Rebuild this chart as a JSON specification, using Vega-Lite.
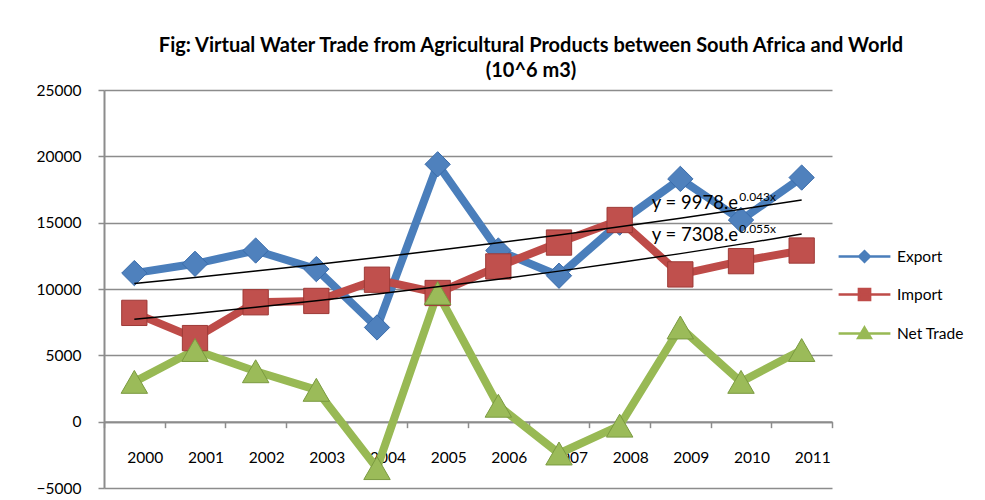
{
  "$schema": "https://vega.github.io/schema/vega-lite/v6.json",
  "width": 728,
  "height": 398,
  "autosize": {"type": "none"},
  "padding": {"left": 104, "top": 90, "right": 153, "bottom": 12},
  "background": "white",
  "config": {
    "view": {"stroke": null},
    "font": "Lato",
    "axis": {"labelFont": "Lato", "labelColor": "#000000", "zindex": 0}
  },
  "title": {
    "text": ["Fig: Virtual Water Trade from Agricultural Products between South Africa and World", "(10^6 m3)"],
    "font": "Lato",
    "fontSize": 20,
    "fontWeight": "bold",
    "color": "#000000",
    "anchor": "middle",
    "dx": 63,
    "lineHeight": 25,
    "offset": 2
  },
  "datasets": {
    "trade": [
      {"year": "2000", "series": "Export", "value": 11200},
      {"year": "2001", "series": "Export", "value": 11900},
      {"year": "2002", "series": "Export", "value": 12900},
      {"year": "2003", "series": "Export", "value": 11500},
      {"year": "2004", "series": "Export", "value": 7100},
      {"year": "2005", "series": "Export", "value": 19400},
      {"year": "2006", "series": "Export", "value": 12900},
      {"year": "2007", "series": "Export", "value": 11000},
      {"year": "2008", "series": "Export", "value": 15000},
      {"year": "2009", "series": "Export", "value": 18300},
      {"year": "2010", "series": "Export", "value": 15200},
      {"year": "2011", "series": "Export", "value": 18400},
      {"year": "2000", "series": "Import", "value": 8200},
      {"year": "2001", "series": "Import", "value": 6300},
      {"year": "2002", "series": "Import", "value": 9000},
      {"year": "2003", "series": "Import", "value": 9100},
      {"year": "2004", "series": "Import", "value": 10700},
      {"year": "2005", "series": "Import", "value": 9700},
      {"year": "2006", "series": "Import", "value": 11700},
      {"year": "2007", "series": "Import", "value": 13500},
      {"year": "2008", "series": "Import", "value": 15200},
      {"year": "2009", "series": "Import", "value": 11100},
      {"year": "2010", "series": "Import", "value": 12100},
      {"year": "2011", "series": "Import", "value": 12900},
      {"year": "2000", "series": "Net Trade", "value": 3000},
      {"year": "2001", "series": "Net Trade", "value": 5400},
      {"year": "2002", "series": "Net Trade", "value": 3800},
      {"year": "2003", "series": "Net Trade", "value": 2400},
      {"year": "2004", "series": "Net Trade", "value": -3500},
      {"year": "2005", "series": "Net Trade", "value": 9700},
      {"year": "2006", "series": "Net Trade", "value": 1200},
      {"year": "2007", "series": "Net Trade", "value": -2400},
      {"year": "2008", "series": "Net Trade", "value": -300},
      {"year": "2009", "series": "Net Trade", "value": 7100},
      {"year": "2010", "series": "Net Trade", "value": 3000},
      {"year": "2011", "series": "Net Trade", "value": 5400}
    ],
    "trend": [
      {"year": "2000", "fit": "Export", "value": 10416},
      {"year": "2001", "fit": "Export", "value": 10874},
      {"year": "2002", "fit": "Export", "value": 11352},
      {"year": "2003", "fit": "Export", "value": 11851},
      {"year": "2004", "fit": "Export", "value": 12371},
      {"year": "2005", "fit": "Export", "value": 12915},
      {"year": "2006", "fit": "Export", "value": 13482},
      {"year": "2007", "fit": "Export", "value": 14075},
      {"year": "2008", "fit": "Export", "value": 14693},
      {"year": "2009", "fit": "Export", "value": 15339},
      {"year": "2010", "fit": "Export", "value": 16013},
      {"year": "2011", "fit": "Export", "value": 16716},
      {"year": "2000", "fit": "Import", "value": 7721},
      {"year": "2001", "fit": "Import", "value": 8158},
      {"year": "2002", "fit": "Import", "value": 8619},
      {"year": "2003", "fit": "Import", "value": 9106},
      {"year": "2004", "fit": "Import", "value": 9621},
      {"year": "2005", "fit": "Import", "value": 10165},
      {"year": "2006", "fit": "Import", "value": 10740},
      {"year": "2007", "fit": "Import", "value": 11347},
      {"year": "2008", "fit": "Import", "value": 11989},
      {"year": "2009", "fit": "Import", "value": 12667},
      {"year": "2010", "fit": "Import", "value": 13383},
      {"year": "2011", "fit": "Import", "value": 14139}
    ],
    "equations": [
      {"year": "2009", "value": 16000, "main": "y = 9978.e", "sup": "0.043x"},
      {"year": "2009", "value": 13600, "main": "y = 7308.e", "sup": "0.055x"}
    ]
  },
  "encoding": {
    "x": {
      "field": "year",
      "type": "ordinal",
      "scale": {"type": "band", "paddingInner": 0, "paddingOuter": 0},
      "axis": {
        "title": null,
        "labelAngle": 0,
        "labelFontSize": 15.5,
        "labelOffset": 10.5,
        "labelPadding": 35,
        "labelBaseline": "alphabetic",
        "offset": -66.33,
        "domainColor": "#8c8c8c",
        "domainWidth": 2,
        "tickBand": "extent",
        "tickColor": "#8c8c8c",
        "tickWidth": 1.5,
        "tickSize": 6,
        "grid": false
      }
    },
    "y": {
      "field": "value",
      "type": "quantitative",
      "scale": {"domain": [-5000, 25000], "nice": false, "zero": false},
      "axis": {
        "title": null,
        "values": [-5000, 0, 5000, 10000, 15000, 20000, 25000],
        "format": "d",
        "labelFontSize": 15.5,
        "labelPadding": 17,
        "labelFlush": false,
        "labelOverlap": false,
        "grid": true,
        "gridColor": "#8c8c8c",
        "gridWidth": 1.5,
        "domainColor": "#8c8c8c",
        "domainWidth": 2,
        "tickColor": "#8c8c8c",
        "tickWidth": 1.5,
        "tickSize": 6
      }
    }
  },
  "layer": [
    {
      "data": {"name": "trade"},
      "mark": {"type": "line", "strokeWidth": 8, "strokeJoin": "miter"},
      "encoding": {
        "color": {
          "field": "series",
          "type": "nominal",
          "scale": {"domain": ["Export", "Import", "Net Trade"], "range": ["#4A7EBB", "#BE4B48", "#98B954"]},
          "legend": {
            "title": null,
            "orient": "none",
            "legendX": 752,
            "legendY": 158,
            "padding": 0,
            "symbolSize": 196,
            "symbolStrokeWidth": 2.5,
            "labelOffset": 24,
            "labelFont": "Lato",
            "labelFontSize": 15.5,
            "labelColor": "#000000",
            "rowPadding": 16,
            "encode": {
              "symbols": {
                "update": {
                  "shape": {"signal": "datum.value === 'Export' ? 'M-3.7,0L3.7,0M-0.75,0L0,-0.75L0.75,0L0,0.75Z' : datum.value === 'Import' ? 'M-3.7,0L3.7,0M-0.8,-0.8L0.8,-0.8L0.8,0.8L-0.8,0.8Z' : 'M-3.7,0L3.7,0M0,-0.85L0.9,0.65L-0.9,0.65Z'"},
                  "fill": {"signal": "scale('color', datum.value)"},
                  "stroke": {"signal": "scale('color', datum.value)"},
                  "strokeWidth": {"value": 2.5},
                  "opacity": {"value": 1},
                  "fillOpacity": {"value": 1}
                }
              }
            }
          }
        }
      }
    },
    {
      "data": {"name": "trade"},
      "transform": [{"filter": "datum.series === 'Export'"}],
      "mark": {"type": "point", "shape": "diamond", "size": 640, "filled": true, "fill": "#4F81BD", "stroke": "#3A6CAB", "strokeWidth": 1, "opacity": 1},
      "encoding": {}
    },
    {
      "data": {"name": "trade"},
      "transform": [{"filter": "datum.series === 'Import'"}],
      "mark": {"type": "point", "shape": "square", "size": 640, "filled": true, "fill": "#C0504D", "stroke": "#9E3A37", "strokeWidth": 1, "opacity": 1},
      "encoding": {}
    },
    {
      "data": {"name": "trade"},
      "transform": [{"filter": "datum.series === 'Net Trade'"}],
      "mark": {"type": "point", "shape": "triangle-up", "size": 700, "filled": true, "fill": "#9BBB59", "stroke": "#7A9A40", "strokeWidth": 1, "opacity": 1},
      "encoding": {}
    },
    {
      "data": {"name": "trend"},
      "mark": {"type": "line", "color": "#000000", "strokeWidth": 1.5},
      "encoding": {"detail": {"field": "fit"}}
    },
    {
      "data": {"name": "equations"},
      "mark": {"type": "text", "align": "right", "baseline": "alphabetic", "dx": 57.7, "font": "Lato", "fontSize": 18.5, "color": "#000000"},
      "encoding": {"text": {"field": "main"}}
    },
    {
      "data": {"name": "equations"},
      "mark": {"type": "text", "align": "left", "baseline": "alphabetic", "dx": 59, "dy": -8, "font": "Lato", "fontSize": 12, "color": "#000000"},
      "encoding": {"text": {"field": "sup"}}
    }
  ]
}
